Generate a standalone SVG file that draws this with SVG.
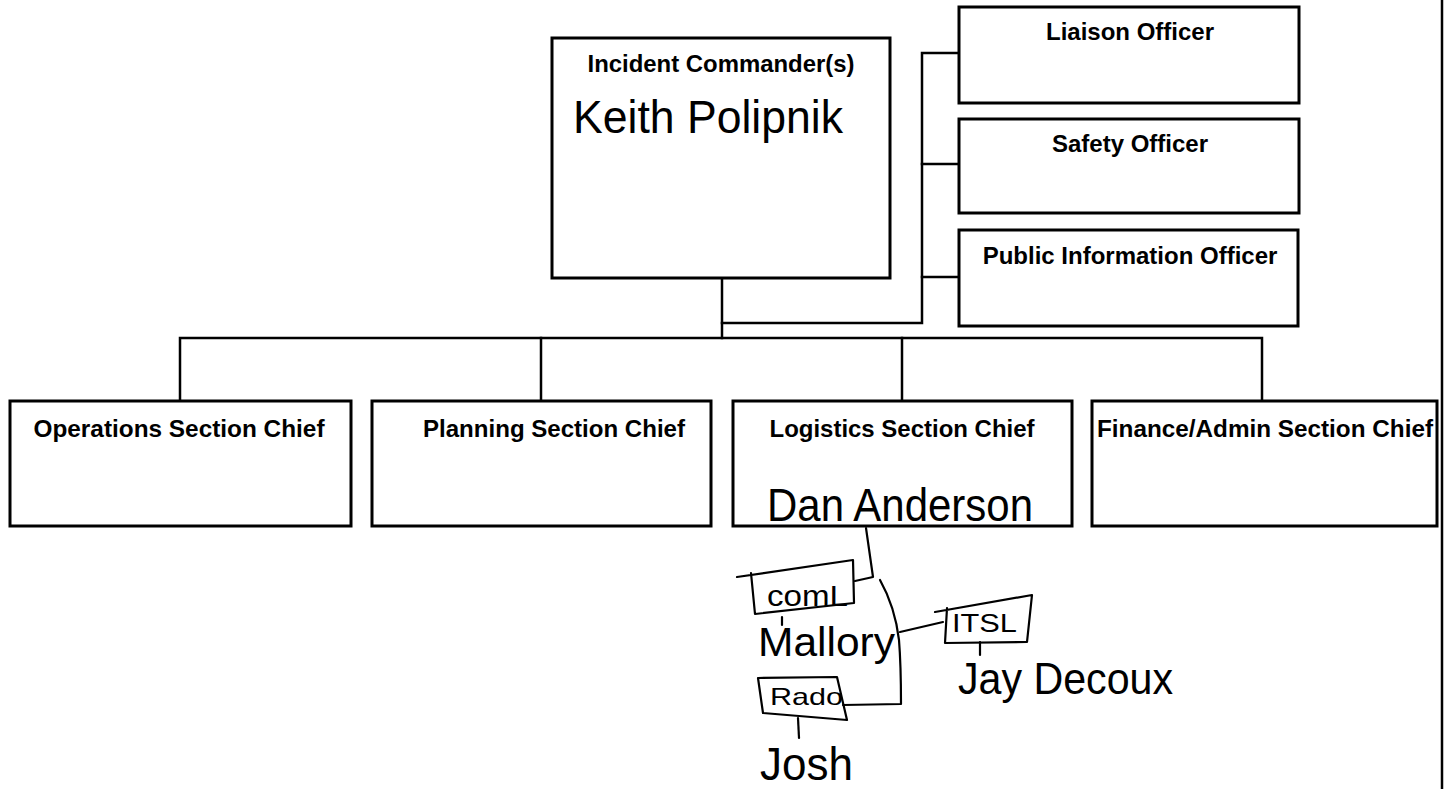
<svg xmlns="http://www.w3.org/2000/svg" width="1447" height="789" viewBox="0 0 1447 789">
<style>
.box{fill:#fff;stroke:#000;stroke-width:3}
.ln{fill:none;stroke:#000;stroke-width:2.5;stroke-linecap:square}
.hw{fill:none;stroke:#000;stroke-width:2.2;stroke-linecap:round;stroke-linejoin:round}
.lbl{font-family:"Liberation Sans",Arial,sans-serif;font-weight:bold;font-size:24px;fill:#000;text-anchor:middle}
.hand{font-family:"Liberation Sans",Arial,sans-serif;font-weight:normal;fill:#000}
</style>
<rect width="1447" height="789" fill="#fff"/>
<g id="connectors">
<path class="ln" d="M722,278 V338"/>
<path class="ln" d="M180,401 V338 H1262 V401"/>
<path class="ln" d="M541,338 V401"/>
<path class="ln" d="M902,338 V401"/>
<path class="ln" d="M722,323 H922 V53 H959"/>
<path class="ln" d="M922,164 H959"/>
<path class="ln" d="M922,277 H959"/>
<path class="hw" d="M866,528 L873,577 L855,581"/>
<path class="hw" d="M880,580 C889,596 896,615 899,640 C901,665 901,690 901,704 L843,705"/>
<path class="hw" d="M900,632 L943,622"/>
<path class="hw" d="M782,617 L782,625"/>
<path class="hw" d="M980,642 L980,655"/>
<path class="hw" d="M798,718 L799,738"/>
</g>
<line x1="1442" y1="0" x2="1442" y2="789" stroke="#000" stroke-width="2.5"/>
<g id="incident-commander">
<rect class="box" x="552" y="38" width="338" height="240"/>
<text class="lbl" x="721" y="72" textLength="267" lengthAdjust="spacingAndGlyphs">Incident Commander(s)</text>
<text class="hand" x="573" y="133" font-size="46" textLength="270" lengthAdjust="spacingAndGlyphs">Keith Polipnik</text>
</g>
<g id="liaison-officer">
<rect class="box" x="959" y="7" width="340" height="96"/>
<text class="lbl" x="1130" y="40">Liaison Officer</text>
</g>
<g id="safety-officer">
<rect class="box" x="959" y="119" width="340" height="94"/>
<text class="lbl" x="1130" y="152">Safety Officer</text>
</g>
<g id="public-information-officer">
<rect class="box" x="959" y="230" width="339" height="96"/>
<text class="lbl" x="1130" y="264">Public Information Officer</text>
</g>
<g id="operations-section-chief">
<rect class="box" x="10" y="401" width="341" height="125"/>
<text class="lbl" x="179" y="437" textLength="291" lengthAdjust="spacingAndGlyphs">Operations Section Chief</text>
</g>
<g id="planning-section-chief">
<rect class="box" x="372" y="401" width="339" height="125"/>
<text class="lbl" x="554" y="437" textLength="262" lengthAdjust="spacingAndGlyphs">Planning Section Chief</text>
</g>
<g id="logistics-section-chief">
<rect class="box" x="733" y="401" width="339" height="125"/>
<text class="lbl" x="902" y="437" textLength="265" lengthAdjust="spacingAndGlyphs">Logistics Section Chief</text>
<text class="hand" x="767" y="521" font-size="46" textLength="266" lengthAdjust="spacingAndGlyphs">Dan Anderson</text>
</g>
<g id="finance-admin-section-chief">
<rect class="box" x="1092" y="401" width="345" height="125"/>
<text class="lbl" x="1265" y="437" textLength="336" lengthAdjust="spacingAndGlyphs">Finance/Admin Section Chief</text>
</g>
<g id="coml">
<path class="hw" d="M737,577 L853,560 L854,603 L755,614 L751,573"/>
<text class="hand" x="767" y="606" font-size="30" textLength="81" lengthAdjust="spacingAndGlyphs">comL</text>
<text class="hand" x="758" y="656" font-size="40" textLength="137" lengthAdjust="spacingAndGlyphs">Mallory</text>
</g>
<g id="itsl">
<path class="hw" d="M935,612 L1032,595 L1027,642 L945,643 L947,608"/>
<text class="hand" x="952" y="632" font-size="26" textLength="65" lengthAdjust="spacingAndGlyphs">ITSL</text>
<text class="hand" x="958" y="694" font-size="44" textLength="215" lengthAdjust="spacingAndGlyphs">Jay Decoux</text>
</g>
<g id="radio">
<path class="hw" d="M758,678 L837,677 L847,720 L763,713 Z"/>
<text class="hand" x="770" y="705" font-size="24" textLength="73" lengthAdjust="spacingAndGlyphs">Rado</text>
<text class="hand" x="760" y="780" font-size="46" textLength="93" lengthAdjust="spacingAndGlyphs">Josh</text>
</g>
</svg>
